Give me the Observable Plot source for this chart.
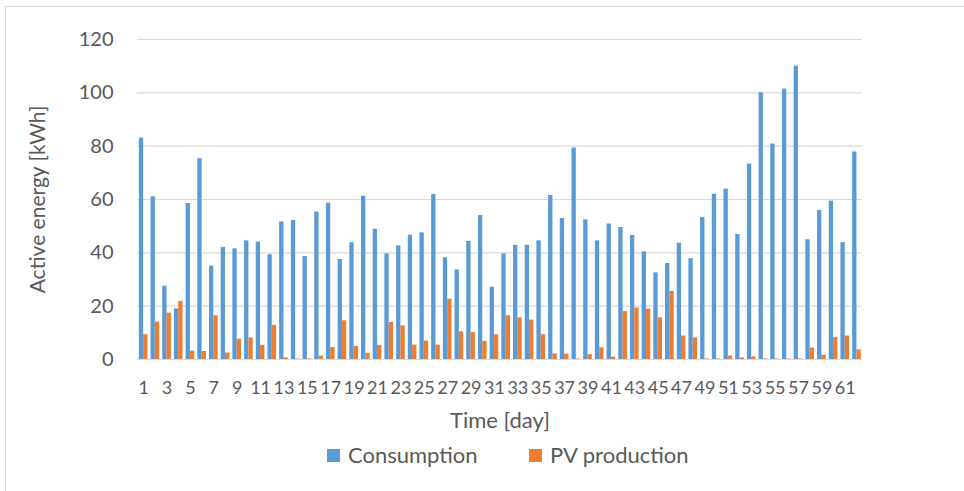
<!DOCTYPE html>
<html>
<head>
<meta charset="utf-8">
<script src="https://cdn.jsdelivr.net/npm/d3@7"></script>
<script src="https://cdn.jsdelivr.net/npm/@observablehq/plot@0.6"></script>
<style>
  html, body { margin: 0; padding: 0; background: #fff; }
  body { width: 964px; height: 491px; position: relative; overflow: hidden; font-family: Lato, "Open Sans", sans-serif; color: #595959; }
  #chart svg { display: block; }
  .bt { position: absolute; left: 5px; top: 6px; right: 0; height: 1px; background: #d9d9d9; }
  .bl { position: absolute; left: 5px; top: 6px; bottom: 0; width: 1px; background: #d9d9d9; }
  #legend { height: 51px; font-size: 22px; }
  #legend .item { position: absolute; display: flex; align-items: center; line-height: 26px; }
  #legend .sw { width: 13px; height: 13px; margin-right: 8px; }
</style>
</head>
<body>
<div class="bt"></div><div class="bl"></div>
<div id="chart"></div>
<div id="legend"></div>
<script>
const days = [1,2,3,4,5,6,7,8,9,10,11,12,13,14,15,16,17,18,19,20,21,22,23,24,25,26,27,28,29,30,31,32,33,34,35,36,37,38,39,40,41,42,43,44,45,46,47,48,49,50,51,52,53,54,55,56,57,58,59,60,61,62];
const consumption = [83, 61, 27.5, 19, 58.5, 75.3, 35, 42, 41.5, 44.5, 44, 39.3, 51.6, 52.1, 38.6, 55.3, 58.6, 37.5, 43.8, 61.2, 48.8, 39.6, 42.6, 46.6, 47.5, 61.9, 38.1, 33.6, 44.3, 54, 27.1, 39.6, 42.8, 42.8, 44.5, 61.5, 52.9, 79.3, 52.4, 44.5, 50.8, 49.5, 46.5, 40.4, 32.5, 36, 43.6, 37.8, 53.3, 62, 63.9, 46.9, 73.3, 100, 80.8, 101.4, 110, 44.9, 55.9, 59.4, 43.8, 77.8];
const pvProduction = [9.3, 14, 17.4, 21.8, 3.1, 3, 16.4, 2.4, 7.6, 8.1, 5.3, 12.8, 0.6, 0.2, 0.2, 1.3, 4.5, 14.5, 4.9, 2.3, 5.3, 13.9, 12.6, 5.4, 6.9, 5.4, 22.6, 10.4, 10.1, 6.8, 9.3, 16.4, 15.6, 14.8, 9.3, 2.1, 2, 0.2, 1.8, 4.4, 0.9, 18, 19.3, 18.9, 15.6, 25.5, 8.8, 8.1, 0.2, 0.2, 1.3, 0.6, 1, 0.2, 0.2, 0.2, 0.2, 4.3, 1.6, 8.3, 8.8, 3.6];
const xTickLabels = [1,3,5,7,9,11,13,15,17,19,21,23,25,27,29,31,33,35,37,39,41,43,45,47,49,51,53,55,57,59,61];
const yTickLabels = [0,20,40,60,80,100,120];
const seriesNames = ["Consumption", "PV production"];
const seriesColors = ["#5B9BD5", "#ED7D31"];
const xTitle = "Time [day]";
const yTitle = "Active energy [kWh]";

const data = days.map((d, i) => ({day: d, cons: consumption[i], pv: pvProduction[i]}));

const W = 964, H = 440;
const mL = 137, mR = 102, mT = 39, mB = 81;
const pIn = 0.26, pOut = 0.13;
const step = (W - mL - mR) / (days.length - pIn + 2 * pOut);
const bw = step * (1 - pIn);

const plot = Plot.plot({
  width: W, height: H,
  marginLeft: mL, marginRight: mR, marginTop: mT, marginBottom: mB,
  style: {fontFamily: "Lato, 'Open Sans', sans-serif", fontSize: "19px", color: "#595959", background: "transparent"},
  x: {type: "band", domain: days, paddingInner: pIn, paddingOuter: pOut, align: 0.6},
  y: {domain: [0, 120]},
  marks: [
    Plot.gridY(yTickLabels, {stroke: "#d9d9d9", strokeOpacity: 1, strokeWidth: 1.2}),
    Plot.barY(data, {x: "day", y: "cons", fill: seriesColors[0], insetRight: bw / 2}),
    Plot.barY(data, {x: "day", y: "pv", fill: seriesColors[1], insetLeft: bw / 2}),
    Plot.axisY({ticks: yTickLabels, tickSize: 0, tickPadding: 24, fontSize: 20, label: null}),
    Plot.axisX({ticks: xTickLabels, tickSize: 0, tickPadding: 22, fontSize: 18, label: null}),
    Plot.text([xTitle], {frameAnchor: "bottom", dy: 68, fontSize: 22, fill: "#595959"}),
    Plot.text([yTitle], {frameAnchor: "left", dx: -99, rotate: -90, textAnchor: "middle", fontSize: 21, fill: "#595959"})
  ]
});
document.getElementById("chart").appendChild(plot);

const legend = document.getElementById("legend");
const positions = [327, 529];
seriesNames.forEach((name, i) => {
  const item = document.createElement("div");
  item.className = "item";
  item.style.left = positions[i] + "px";
  item.style.top = (H + 2) + "px";
  const sw = document.createElement("span");
  sw.className = "sw";
  sw.style.background = seriesColors[i];
  const tx = document.createElement("span");
  tx.textContent = name;
  item.appendChild(sw);
  item.appendChild(tx);
  legend.appendChild(item);
});
</script>
</body>
</html>
